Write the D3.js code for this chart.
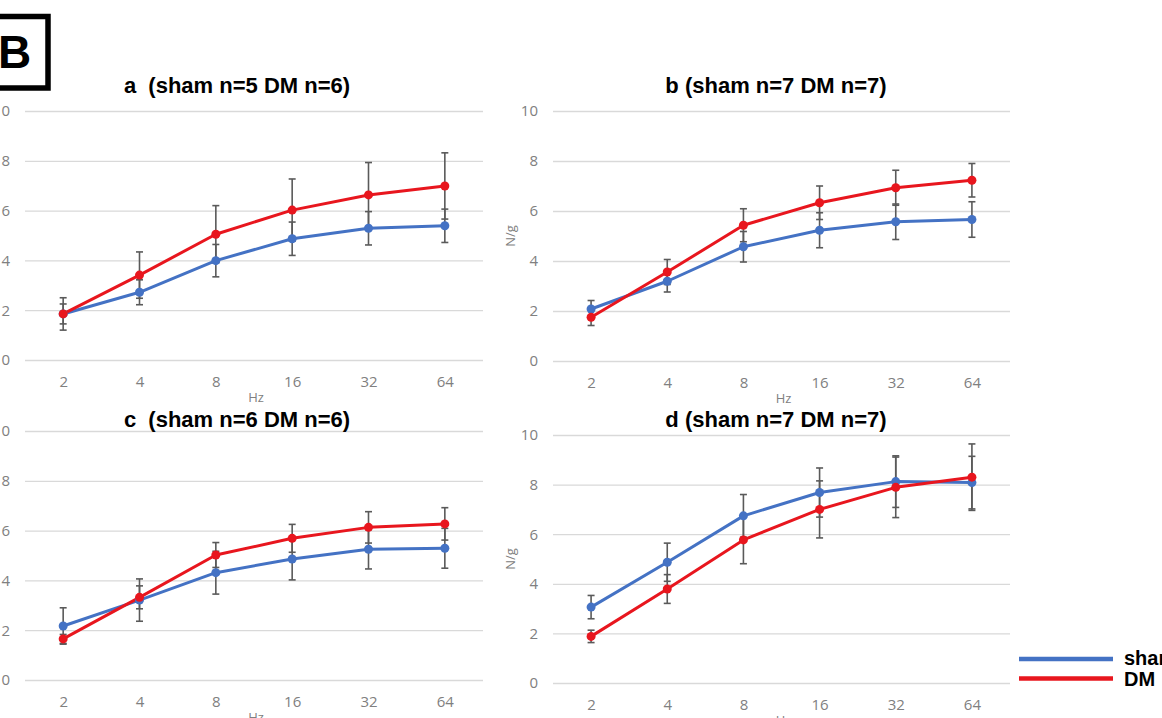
<!DOCTYPE html>
<html>
<head>
<meta charset="utf-8">
<script src="https://cdn.jsdelivr.net/npm/d3@7"></script>
<style>
  body { margin: 0; background: #fff; overflow: hidden; }
  svg { display: block; }
</style>
</head>
<body>
<svg id="chart" width="1162" height="718"></svg>
<script>
// frequencies on the x axis
var freqs = ["2", "4", "8", "16", "32", "64"];
var yTicks = [0, 2, 4, 6, 8, 10];

// panel a (sham n=5 DM n=6)
var shamA = [1.85, 2.72, 3.99, 4.87, 5.29, 5.39];
var shamErrA = [0.40, 0.50, 0.65, 0.67, 0.67, 0.67];
var dmA = [1.85, 3.41, 5.05, 6.02, 6.63, 6.99];
var dmErrA = [0.65, 0.93, 1.15, 1.25, 1.30, 1.33];

// panel b (sham n=7 DM n=7)
var shamB = [2.08, 3.19, 4.57, 5.23, 5.57, 5.66];
var shamErrB = [0.34, 0.43, 0.61, 0.70, 0.71, 0.71];
var dmB = [1.75, 3.56, 5.43, 6.33, 6.93, 7.23];
var dmErrB = [0.33, 0.50, 0.66, 0.67, 0.70, 0.67];

// panel c (sham n=6 DM n=6)
var shamC = [2.17, 3.21, 4.31, 4.86, 5.25, 5.29];
var shamErrC = [0.73, 0.85, 0.86, 0.84, 0.79, 0.80];
var dmC = [1.65, 3.32, 5.02, 5.69, 6.13, 6.27];
var dmErrC = [0.18, 0.46, 0.50, 0.56, 0.63, 0.65];

// panel d (sham n=7 DM n=7)
var shamD = [3.06, 4.87, 6.74, 7.68, 8.12, 8.08];
var shamErrD = [0.47, 0.77, 0.86, 0.99, 1.04, 1.06];
var dmD = [1.88, 3.79, 5.77, 7.00, 7.89, 8.30];
var dmErrD = [0.25, 0.58, 0.96, 1.15, 1.22, 1.34];

var titles = ["a  (sham n=5 DM n=6)", "b (sham n=7 DM n=7)", "c  (sham n=6 DM n=6)", "d (sham n=7 DM n=7)"];
var legendNames = ["sham", "DM"];

var blue = "#4472c4", red = "#e8161e", errColor = "#5a5a5a", labelColor = "#808080";

var panels = [
  {title: titles[0], titleY: 93,  x0: 25,  x1: 483,  top: 111, bottom: 360, sham: shamA, shamErr: shamErrA, dm: dmA, dmErr: dmErrA},
  {title: titles[1], titleY: 93,  x0: 553, x1: 1010, top: 111, bottom: 361, sham: shamB, shamErr: shamErrB, dm: dmB, dmErr: dmErrB},
  {title: titles[2], titleY: 427, x0: 25,  x1: 483,  top: 431, bottom: 680, sham: shamC, shamErr: shamErrC, dm: dmC, dmErr: dmErrC},
  {title: titles[3], titleY: 427, x0: 553, x1: 1010, top: 435, bottom: 683, sham: shamD, shamErr: shamErrD, dm: dmD, dmErr: dmErrD}
];

var svg = d3.select("#chart");

function drawPanel(p){
  var xScale = d3.scalePoint().domain(freqs).range([p.x0, p.x1]).padding(0.5);
  var yScale = d3.scaleLinear().domain([0, 10]).range([p.bottom, p.top]);
  var g = svg.append("g");

  // gridlines + y labels
  var yAxis = d3.axisLeft(yScale).tickValues(yTicks).tickSize(-(p.x1 - p.x0)).tickPadding(15);
  var ya = g.append("g").attr("transform", "translate(" + p.x0 + ",0)").call(yAxis);
  ya.select(".domain").remove();
  ya.selectAll("line").attr("stroke", "#d9d9d9").attr("stroke-width", 1.3);
  ya.selectAll("text").attr("fill", labelColor).style("font", "15px 'Open Sans', sans-serif");

  // x labels
  var xAxis = d3.axisBottom(xScale).tickSize(0).tickPadding(16);
  var xa = g.append("g").attr("transform", "translate(0," + p.bottom + ")").call(xAxis);
  xa.select(".domain").remove();
  xa.selectAll("text").attr("fill", labelColor).style("font", "15px 'Open Sans', sans-serif");

  // axis titles
  var cx = (p.x0 + p.x1) / 2;
  g.append("text").attr("x", cx + 2).attr("y", p.bottom + 42)
    .attr("text-anchor", "middle").attr("fill", labelColor)
    .style("font", "13px 'Open Sans', sans-serif").text("Hz");
  g.append("text")
    .attr("transform", "translate(" + (p.x0 - 38) + "," + ((p.top + p.bottom) / 2) + ") rotate(-90)")
    .attr("text-anchor", "middle").attr("fill", labelColor)
    .style("font", "13px 'Open Sans', sans-serif").text("N/g");

  // panel title
  g.append("text").attr("x", p.x0 < 100 ? 237 : 776).attr("y", p.titleY)
    .attr("text-anchor", "middle").attr("fill", "#000")
    .style("white-space", "pre")
    .style("font", "bold 22px 'Liberation Sans', Arial, sans-serif").text(p.title);

  var series = [
    {vals: p.sham, errs: p.shamErr, color: blue},
    {vals: p.dm, errs: p.dmErr, color: red}
  ];

  var line = d3.line()
    .x(function(d, i){ return xScale(freqs[i]); })
    .y(function(d){ return yScale(d); });

  series.forEach(function(s){
    g.append("path").datum(s.vals)
      .attr("d", line)
      .attr("fill", "none")
      .attr("stroke", s.color)
      .attr("stroke-width", 3)
      .attr("stroke-linejoin", "round");
  });

  // error bars
  series.forEach(function(s){
    s.vals.forEach(function(v, i){
      var x = xScale(freqs[i]);
      var yl = yScale(v - s.errs[i]), yh = yScale(v + s.errs[i]);
      g.append("line").attr("x1", x).attr("x2", x).attr("y1", yl).attr("y2", yh)
        .attr("stroke", errColor).attr("stroke-width", 1.6);
      [yl, yh].forEach(function(yy){
        g.append("line").attr("x1", x - 3.5).attr("x2", x + 3.5).attr("y1", yy).attr("y2", yy)
          .attr("stroke", errColor).attr("stroke-width", 1.6);
      });
    });
  });

  // markers
  series.forEach(function(s){
    g.selectAll(null).data(s.vals).enter().append("circle")
      .attr("cx", function(d, i){ return xScale(freqs[i]); })
      .attr("cy", function(d){ return yScale(d); })
      .attr("r", 4.5)
      .attr("fill", s.color);
  });
}

panels.forEach(drawPanel);

// "B" label box
svg.append("rect").attr("x", -10).attr("y", 16.5).attr("width", 58).attr("height", 71.5)
  .attr("fill", "none").attr("stroke", "#000").attr("stroke-width", 5.5);
svg.append("text").attr("x", -2).attr("y", 68)
  .style("font", "bold 46px 'Liberation Sans', Arial, sans-serif").attr("fill", "#000").text("B");

// legend
var legend = svg.append("g");
[blue, red].forEach(function(c, i){
  legend.append("line").attr("x1", 1019).attr("x2", 1113)
    .attr("y1", 659 + i * 19.5).attr("y2", 659 + i * 19.5)
    .attr("stroke", c).attr("stroke-width", 4.5);
  legend.append("text").attr("x", 1124).attr("y", 665 + i * 21)
    .style("font", "bold 20px 'Liberation Sans', Arial, sans-serif").attr("fill", "#000")
    .text(legendNames[i]);
});
</script>
</body>
</html>
